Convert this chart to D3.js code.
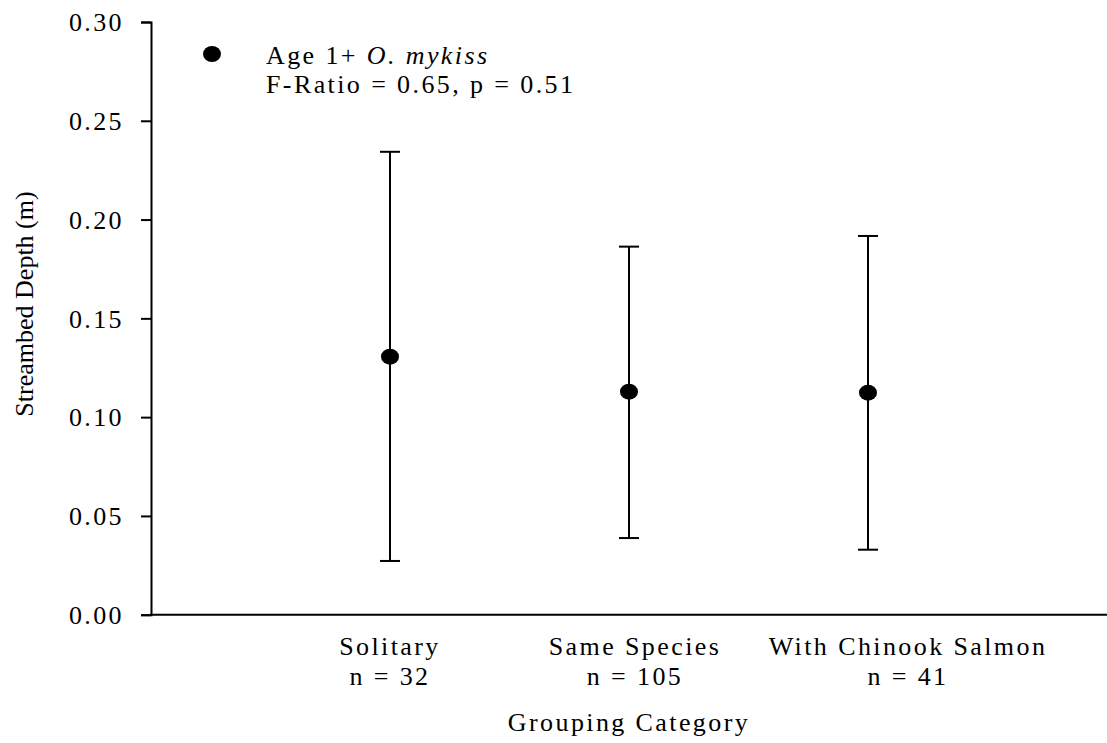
<!DOCTYPE html>
<html>
<head>
<meta charset="utf-8">
<script src="https://cdn.jsdelivr.net/npm/d3@7"></script>
<style>
  html, body { margin: 0; padding: 0; background: #fff; }
  svg { display: block; }
  text { font-family: "Liberation Serif", "Times New Roman", serif; fill: #000; }
</style>
</head>
<body>
<svg id="chart" width="1107" height="743"></svg>
<script>
// Streambed depth by grouping category, age 1+ O. mykiss
const categories = ["Solitary", "Same Species", "With Chinook Salmon"];
const sampleSizes = [32, 105, 41];
const means = [0.1306, 0.1129, 0.1124];
const upper = [0.2343, 0.1863, 0.1917];
const lower = [0.0272, 0.0388, 0.0329];
const yTicks = [0.00, 0.05, 0.10, 0.15, 0.20, 0.25, 0.30];

(function () {
  const svg = d3.select("#chart");
  const plotLeft = 151, plotRight = 1107, plotTop = 22, plotBottom = 614.7;
  const spacing = 2.4;

  const y = d3.scaleLinear().domain([0, 0.30]).range([plotBottom, plotTop]);
  // category slots 1..3 across a four-slot axis
  const x = d3.scaleLinear().domain([0, categories.length + 1]).range([plotLeft, plotRight]);
  // horizontal nudge of the category captions relative to their marks
  const captionShift = [0, 6, 40];

  // y axis
  const yAxis = d3.axisLeft(y).tickValues(yTicks).tickSize(10).tickFormat(d3.format(".2f"));
  const gy = svg.append("g").attr("transform", `translate(${plotLeft},0)`).call(yAxis);
  gy.attr("font-family", "'Liberation Serif', serif").attr("font-size", 26);
  gy.select(".domain").attr("stroke", "#000").attr("stroke-width", 2);
  gy.selectAll(".tick line").attr("stroke", "#000").attr("stroke-width", 2);
  gy.selectAll(".tick text")
    .attr("x", -27)
    .attr("dy", "0.34em")
    .style("font-size", "26px")
    .style("letter-spacing", spacing + "px")
    .style("font-family", "'Liberation Serif', serif");

  // x axis line
  svg.append("line")
    .attr("x1", plotLeft - 1).attr("x2", plotRight)
    .attr("y1", y(0)).attr("y2", y(0))
    .attr("stroke", "#000").attr("stroke-width", 2);

  // error bars with mean markers
  const g = svg.append("g");
  categories.forEach((c, i) => {
    const cx = x(i + 1);
    g.append("line").attr("x1", cx).attr("x2", cx)
      .attr("y1", y(upper[i])).attr("y2", y(lower[i]))
      .attr("stroke", "#000").attr("stroke-width", 2);
    [upper[i], lower[i]].forEach(v => {
      g.append("line").attr("x1", cx - 10).attr("x2", cx + 10)
        .attr("y1", y(v)).attr("y2", y(v))
        .attr("stroke", "#000").attr("stroke-width", 2);
    });
    g.append("ellipse").attr("cx", cx).attr("cy", y(means[i]))
      .attr("rx", 9).attr("ry", 8).attr("fill", "#000");
  });

  // category captions
  categories.forEach((c, i) => {
    const cx = x(i + 1) + captionShift[i];
    svg.append("text").attr("x", cx).attr("y", 655)
      .attr("text-anchor", "middle")
      .style("font-size", "26px").style("letter-spacing", spacing + "px")
      .text(c);
    svg.append("text").attr("x", cx).attr("y", 685)
      .attr("text-anchor", "middle")
      .style("font-size", "26px").style("letter-spacing", spacing + "px")
      .text("n = " + sampleSizes[i]);
  });

  // axis titles
  svg.append("text")
    .attr("x", (plotLeft + plotRight) / 2).attr("y", 731)
    .attr("text-anchor", "middle")
    .style("font-size", "26px").style("letter-spacing", spacing + "px")
    .text("Grouping Category");

  svg.append("text")
    .attr("transform", "translate(33,304) rotate(-90)")
    .attr("text-anchor", "middle")
    .style("font-size", "26px")
    .text("Streambed Depth (m)");

  // legend
  svg.append("ellipse").attr("cx", 212).attr("cy", 54).attr("rx", 9).attr("ry", 8).attr("fill", "#000");
  const l1 = svg.append("text").attr("x", 266).attr("y", 64)
    .style("font-size", "26px").style("letter-spacing", spacing + "px");
  l1.append("tspan").text("Age 1+ ");
  l1.append("tspan").style("font-style", "italic").text("O. mykiss");
  svg.append("text").attr("x", 266).attr("y", 93)
    .style("font-size", "26px").style("letter-spacing", spacing + "px")
    .text("F-Ratio = 0.65, p = 0.51");
})();
</script>
</body>
</html>
